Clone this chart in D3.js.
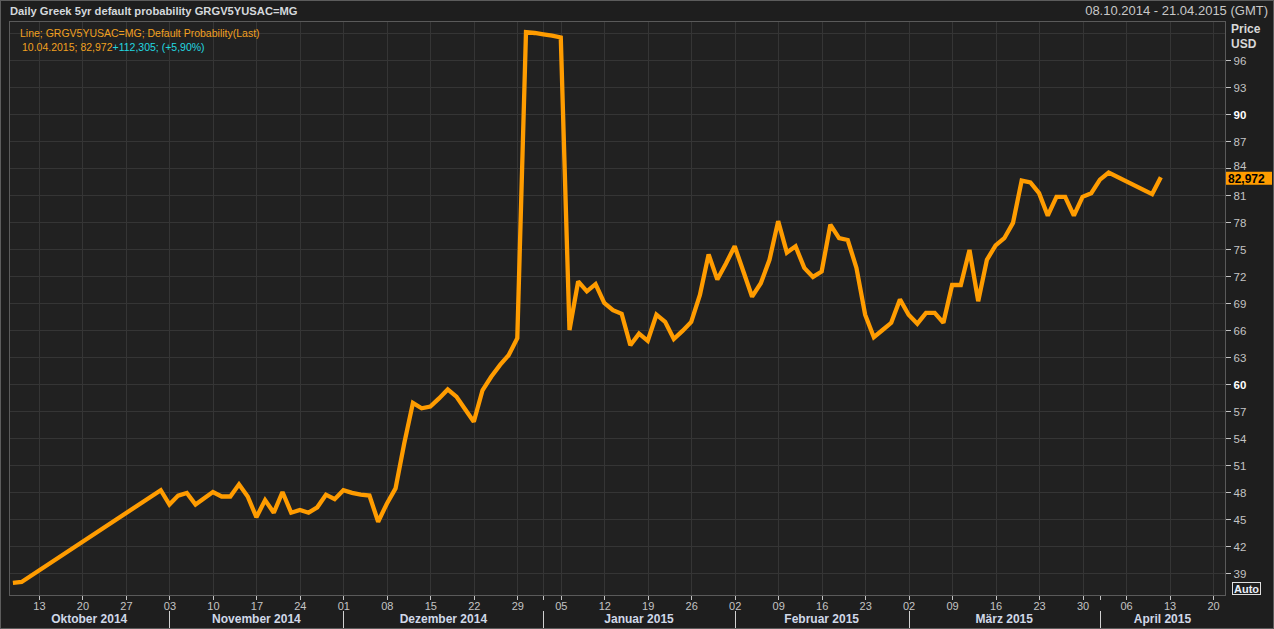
<!DOCTYPE html>
<html>
<head>
<meta charset="utf-8">
<script src="https://cdn.jsdelivr.net/npm/d3@7"></script>
<style>
  html, body { margin: 0; padding: 0; background: #1d1d1d; }
  svg { display: block; font-family: "Liberation Sans", Arial, sans-serif; }
  .grid line { stroke: #353535; stroke-width: 1; shape-rendering: crispEdges; }
  .grid path { display: none; }
  .yaxis text, .xaxis text { fill: #c4c4c4; font-size: 11px; }
  .yaxis line, .xaxis line { stroke: #c4c4c4; shape-rendering: crispEdges; }
  .yaxis path, .xaxis path { display: none; }
</style>
</head>
<body>
<svg id="chart"></svg>
<script>
const W = 1274;
const H = 629;

// data (business days only)
const dates = [
  "2014-10-08","2014-10-09","2014-10-31",
  "2014-11-03","2014-11-04","2014-11-05","2014-11-06","2014-11-07",
  "2014-11-10","2014-11-11","2014-11-12","2014-11-13","2014-11-14",
  "2014-11-17","2014-11-18","2014-11-19","2014-11-20","2014-11-21",
  "2014-11-24","2014-11-25","2014-11-26","2014-11-27","2014-11-28",
  "2014-12-01","2014-12-02","2014-12-03","2014-12-04","2014-12-05",
  "2014-12-08","2014-12-09","2014-12-10","2014-12-11","2014-12-12",
  "2014-12-15","2014-12-16","2014-12-17","2014-12-18","2014-12-19",
  "2014-12-22","2014-12-23","2014-12-24","2014-12-25","2014-12-26",
  "2014-12-29","2014-12-30","2014-12-31","2015-01-01","2015-01-02",
  "2015-01-05","2015-01-06","2015-01-07","2015-01-08","2015-01-09",
  "2015-01-12","2015-01-13","2015-01-14","2015-01-15","2015-01-16",
  "2015-01-19","2015-01-20","2015-01-21","2015-01-22","2015-01-23",
  "2015-01-26","2015-01-27","2015-01-28","2015-01-29","2015-01-30",
  "2015-02-02","2015-02-03","2015-02-04","2015-02-05","2015-02-06",
  "2015-02-09","2015-02-10","2015-02-11","2015-02-12","2015-02-13",
  "2015-02-16","2015-02-17","2015-02-18","2015-02-19","2015-02-20",
  "2015-02-23","2015-02-24","2015-02-25","2015-02-26","2015-02-27",
  "2015-03-02","2015-03-03","2015-03-04","2015-03-05","2015-03-06",
  "2015-03-09","2015-03-10","2015-03-11","2015-03-12","2015-03-13",
  "2015-03-16","2015-03-17","2015-03-18","2015-03-19","2015-03-20",
  "2015-03-23","2015-03-24","2015-03-25","2015-03-26","2015-03-27",
  "2015-03-30","2015-03-31","2015-04-01","2015-04-02",
  "2015-04-09","2015-04-10"
];
const values = [
  37.9, 38.0, 48.2,
  46.6, 47.6, 47.9, 46.6, 47.3,
  48.0, 47.5, 47.5, 48.85, 47.5,
  45.2, 47.1, 45.7, 48.0, 45.7,
  46.0, 45.7, 46.3, 47.7, 47.2,
  48.2, 47.9, 47.7, 47.6, 44.7,
  46.7, 48.4, 53.4, 57.9, 57.3,
  57.5, 58.4, 59.4, 58.6, 57.2,
  55.8, 59.3, 60.8, 62.1, 63.2,
  65.1, 99.1, 99.0, 98.85, 98.7,
  98.5, 66.0, 71.4, 70.3, 71.1,
  69.0, 68.2, 67.8, 64.3, 65.6,
  64.8, 67.7, 66.9, 65.0, 65.9,
  66.9, 69.9, 74.4, 71.6, 73.4,
  75.3, 72.5, 69.7, 71.2, 73.8,
  78.1, 74.6, 75.3, 72.9, 71.9,
  72.5, 77.7, 76.2, 76.0, 72.9,
  67.7, 65.2, 66.0, 66.8, 69.4,
  67.7, 66.7, 67.9, 67.9, 66.8,
  71.0, 71.0, 74.9, 69.2, 73.8,
  75.4, 76.2, 77.9, 82.6, 82.4,
  81.2, 78.7, 80.8, 80.8, 78.7,
  80.8, 81.2, 82.7, 83.5,
  81.1, 82.972
];

const yTicks = [39, 42, 45, 48, 51, 54, 57, 60, 63, 66, 69, 72, 75, 78, 81, 84, 87, 90, 93, 96];
const yGrid = yTicks.concat([99]);
const boldTicks = [60, 90];
const months = ["Oktober 2014", "November 2014", "Dezember 2014", "Januar 2015", "Februar 2015", "März 2015", "April 2015"];

const title = "Daily Greek 5yr default probability GRGV5YUSAC=MG";
const range = "08.10.2014 - 21.04.2015 (GMT)";
const legend1 = "Line; GRGV5YUSAC=MG; Default Probability(Last)";
const legendA = "10.04.2015; 82,972";
const legendB = "+112,305; (+5,90%)";
const lastLabel = "82,972";
const lastValue = 82.972;

// weekday calendar of the visible window
const parse = d3.timeParse("%Y-%m-%d");
const days = d3.timeDay.range(parse("2014-10-08"), parse("2015-04-22"))
  .filter(d => d.getDay() !== 0 && d.getDay() !== 6);
const key = d3.timeFormat("%Y-%m-%d");
const idx = new Map(days.map((d, i) => [key(d), i]));

const plot = { left: 9, right: 1225, top: 21, bottom: 595 };

const x = d3.scaleLinear().domain([0, days.length - 1]).range([12.9, 1221.7]);
const y = d3.scaleLinear().domain([39, 96]).range([573, 60]);

const svg = d3.select("#chart").attr("width", W).attr("height", H);

svg.append("rect").attr("x", 0.5).attr("y", 0.5).attr("width", W - 1).attr("height", H - 1)
  .attr("fill", "#1e1e1e").attr("stroke", "#5c5c5c");

svg.append("rect")
  .attr("x", plot.left).attr("y", plot.top)
  .attr("width", plot.right - plot.left).attr("height", plot.bottom - plot.top)
  .attr("fill", "#212121");

// ticks: Mondays and month starts
const mondays = days.map((d, i) => [d, i]).filter(([d]) => d.getDay() === 1 && d > parse("2014-10-09"));
const monthStarts = [];
days.forEach((d, i) => {
  if (i > 0 && d.getMonth() !== days[i - 1].getMonth()) monthStarts.push(i);
});
const gridX = mondays.map(m => m[1]).concat(monthStarts.filter(i => days[i].getMonth() === 0));
const tickX = Array.from(new Set(mondays.map(m => m[1]).concat(monthStarts))).sort((a, b) => a - b);

// grid
svg.append("g").attr("class", "grid")
  .attr("transform", `translate(0,${plot.bottom})`)
  .call(d3.axisBottom(x).tickValues(gridX).tickSize(-(plot.bottom - plot.top)).tickFormat(""));
svg.append("g").attr("class", "grid")
  .attr("transform", `translate(${plot.right},0)`)
  .call(d3.axisLeft(y).tickValues(yGrid).tickSize(plot.right - plot.left).tickFormat(""));

// plot frame
svg.append("rect")
  .attr("x", plot.left + 0.5).attr("y", plot.top + 0.5)
  .attr("width", plot.right - plot.left).attr("height", plot.bottom - plot.top)
  .attr("fill", "none").attr("stroke", "#5a5a5a").attr("shape-rendering", "crispEdges");

// y axis on the right
const yAxis = svg.append("g").attr("class", "yaxis")
  .attr("transform", `translate(${plot.right + 0.5},0)`)
  .call(d3.axisRight(y).tickValues(yTicks).tickSize(5).tickPadding(3).tickFormat(d3.format("d")));
yAxis.selectAll("text")
  .attr("dy", d => d === 84 ? "0.1em" : "0.35em")
  .style("font-size", "11.5px")
  .style("font-weight", d => boldTicks.includes(d) ? "bold" : "normal")
  .style("fill", d => boldTicks.includes(d) ? "#ffffff" : "#c4c4c4");

svg.append("text").attr("x", 1231).attr("y", 33)
  .attr("fill", "#d8d8d8").attr("font-size", 12).attr("font-weight", "bold").text("Price");
svg.append("text").attr("x", 1231).attr("y", 48)
  .attr("fill", "#d8d8d8").attr("font-size", 12).attr("font-weight", "bold").text("USD");

// x axis: day numbers
const xAxis = svg.append("g").attr("class", "xaxis")
  .attr("transform", `translate(0,${plot.bottom + 0.5})`)
  .call(d3.axisBottom(x).tickValues(tickX).tickSize(4).tickPadding(3)
    .tickFormat(i => monthStarts.includes(i) && days[i].getDay() !== 1 ? "" : d3.timeFormat("%d")(days[i])));

// month row
const bounds = [0].concat(monthStarts.map(i => x(i))).concat([plot.right]);
bounds[0] = plot.left;
const seps = svg.append("g");
monthStarts.forEach(i => {
  seps.append("line")
    .attr("x1", Math.round(x(i)) + 0.5).attr("x2", Math.round(x(i)) + 0.5)
    .attr("y1", 611).attr("y2", 628)
    .attr("stroke", "#d0d0d0");
});
months.forEach((m, k) => {
  svg.append("text")
    .attr("x", (bounds[k] + bounds[k + 1]) / 2).attr("y", 623)
    .attr("text-anchor", "middle")
    .attr("fill", "#d0d8e8").attr("font-size", 12).attr("font-weight", "bold")
    .text(m);
});

// the line
const pts = dates.map((d, k) => [idx.get(d), values[k]]);
const line = d3.line().x(p => x(p[0])).y(p => y(p[1]));
svg.append("path").datum(pts)
  .attr("d", line)
  .attr("fill", "none")
  .attr("stroke", "#ff9c00")
  .attr("stroke-width", 4.3)
  .attr("stroke-linejoin", "miter")
  .attr("stroke-miterlimit", 2);

// last value box
svg.append("rect")
  .attr("x", plot.right + 1).attr("y", y(lastValue) - 5.5)
  .attr("width", 46).attr("height", 13)
  .attr("fill", "#ff9c00");
svg.append("text")
  .attr("x", plot.right + 3).attr("y", y(lastValue) + 5.5)
  .attr("fill", "#000").attr("font-size", 12).attr("font-weight", "bold")
  .text(lastLabel);

// Auto button
svg.append("rect").attr("x", 1232.5).attr("y", 582.5).attr("width", 28).attr("height", 12)
  .attr("fill", "#1e1e1e").attr("stroke", "#e0e0e0");
svg.append("text").attr("x", 1246.5).attr("y", 592.5).attr("text-anchor", "middle")
  .attr("fill", "#e8eef8").attr("font-size", 11).attr("font-weight", "bold").text("Auto");

// header
svg.append("text").attr("x", 10).attr("y", 15)
  .attr("fill", "#d4d8dc").attr("font-size", 11.2).attr("font-weight", "bold")
  .text(title);
svg.append("text").attr("x", 1268).attr("y", 15).attr("text-anchor", "end")
  .attr("fill", "#c8c8c8").attr("font-size", 13)
  .text(range);

// legend
svg.append("text").attr("x", 20).attr("y", 37)
  .attr("fill", "#f0a020").attr("font-size", 10.5).text(legend1);
const lg = svg.append("text").attr("x", 22).attr("y", 51).attr("font-size", 10.5);
lg.append("tspan").attr("fill", "#f0a020").text(legendA);
lg.append("tspan").attr("fill", "#22d8e0").text(legendB);
</script>
</body>
</html>
